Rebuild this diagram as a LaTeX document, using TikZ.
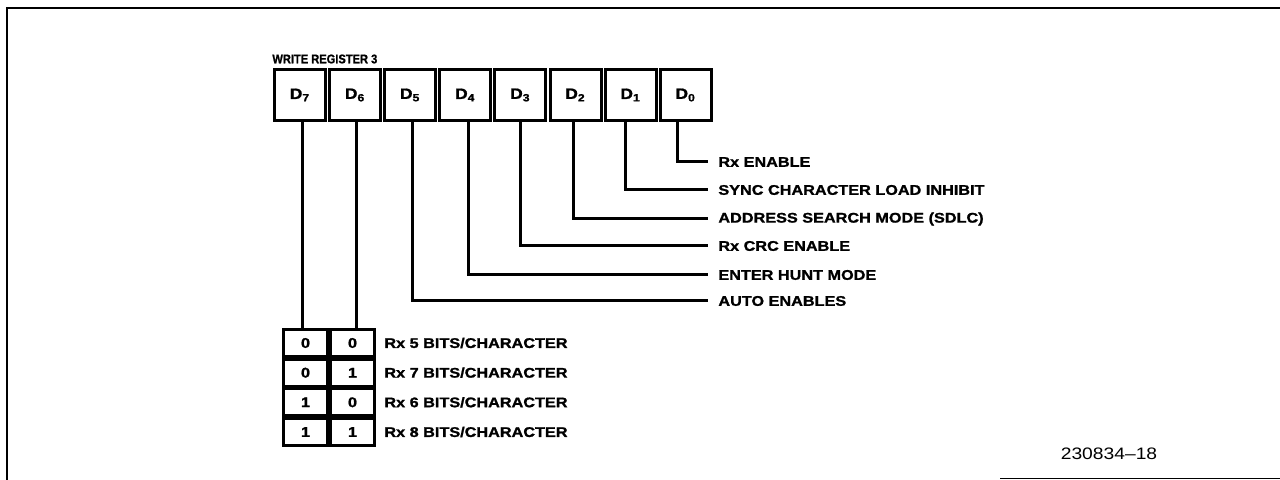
\documentclass[tikz,border=0pt]{standalone}
\usepackage{fontspec}
\setmainfont{Liberation Sans}
\newfontfamily\lblfont[FakeStretch=1.16,BoldFeatures={FakeBold=1.2}]{Liberation Sans}
\begin{document}
\begin{tikzpicture}[x=0.5pt,y=-0.5pt,
  frame/.style={line width=0.8pt},
  conn/.style={line width=1.5pt},
  cell/.style={draw,line width=1.5pt,minimum width=25.5pt,minimum height=25.5pt,inner sep=0pt,
    font=\lblfont\bfseries\fontsize{7.5}{8}\selectfont},
  tcell/.style={draw,line width=1.5pt,minimum width=22pt,minimum height=13.6pt,inner sep=0pt,
    font=\lblfont\bfseries\fontsize{7}{8}\selectfont},
  lbl/.style={anchor=west,inner sep=0pt,font=\lblfont\bfseries\fontsize{7}{8}\selectfont}]
\useasboundingbox (0,0) rectangle (1280,480);
% frame
\draw[frame] (7,480) -- (7,8) -- (1282,8);
\draw[frame] (1000,478.5) -- (1282,478.5);
% title
\node[anchor=west,inner sep=0pt,font=\lblfont\bfseries\fontsize{6.3}{7}\selectfont] (title) at (272,59) {\scalebox{0.76}[1]{WRITE REGISTER 3}};
% register cells
\node[cell] (d7) at (300,95) {D\textsubscript{7}};
\node[cell] (d6) at (355.1,95) {D\textsubscript{6}};
\node[cell] (d5) at (410.2,95) {D\textsubscript{5}};
\node[cell] (d4) at (465.3,95) {D\textsubscript{4}};
\node[cell] (d3) at (520.4,95) {D\textsubscript{3}};
\node[cell] (d2) at (575.5,95) {D\textsubscript{2}};
\node[cell] (d1) at (630.6,95) {D\textsubscript{1}};
\node[cell] (d0) at (685.7,95) {D\textsubscript{0}};
% labels
\node[lbl] (l0) at (718,162) {Rx ENABLE};
\node[lbl] (l1) at (718,190) {SYNC CHARACTER LOAD INHIBIT};
\node[lbl] (l2) at (718,219) {ADDRESS SEARCH MODE (SDLC)};
\node[lbl] (l3) at (718,246) {Rx CRC ENABLE};
\node[lbl] (l4) at (718,275) {ENTER HUNT MODE};
\node[lbl] (l5) at (718,301) {AUTO ENABLES};
% connectors
\draw[conn] ([xshift=-4.35pt]d0.south) |- ([xshift=-5pt]l0.west);
\draw[conn] ([xshift=-2.8pt]d1.south) |- ([xshift=-5pt]l1.west);
\draw[conn] ([xshift=-1.25pt]d2.south) |- ([xshift=-5pt]l2.west);
\draw[conn] (d3.south) |- ([xshift=-5pt]l3.west);
\draw[conn] ([xshift=1.35pt]d4.south) |- ([xshift=-5pt]l4.west);
\draw[conn] ([xshift=0.9pt]d5.south) |- ([xshift=-5pt]l5.west);
% table
\node[tcell] (t1a) at (305.5,343) {0};
\node[tcell] (t1b) at (352.5,343) {0};
\node[tcell] (t2a) at (305.5,372.7) {0};
\node[tcell] (t2b) at (352.5,372.7) {1};
\node[tcell] (t3a) at (305.5,402.3) {1};
\node[tcell] (t3b) at (352.5,402.3) {0};
\node[tcell] (t4a) at (305.5,432) {1};
\node[tcell] (t4b) at (352.5,432) {1};
\node[lbl] (r1) at (384,343) {Rx 5 BITS/CHARACTER};
\node[lbl] (r2) at (384,372.7) {Rx 7 BITS/CHARACTER};
\node[lbl] (r3) at (384,402.3) {Rx 6 BITS/CHARACTER};
\node[lbl] (r4) at (384,432) {Rx 8 BITS/CHARACTER};
\draw[conn] ([xshift=1pt]d7.south) -- ([xshift=1pt]d7.south |- t1a.north);
\draw[conn] ([xshift=0.45pt]d6.south) -- ([xshift=0.45pt]d6.south |- t1b.north);
% figure number
\node[inner sep=0pt,font=\lblfont\fontsize{8.3}{9}\selectfont] (fig) at (1109,454) {230834–18};
\end{tikzpicture}
\end{document}
